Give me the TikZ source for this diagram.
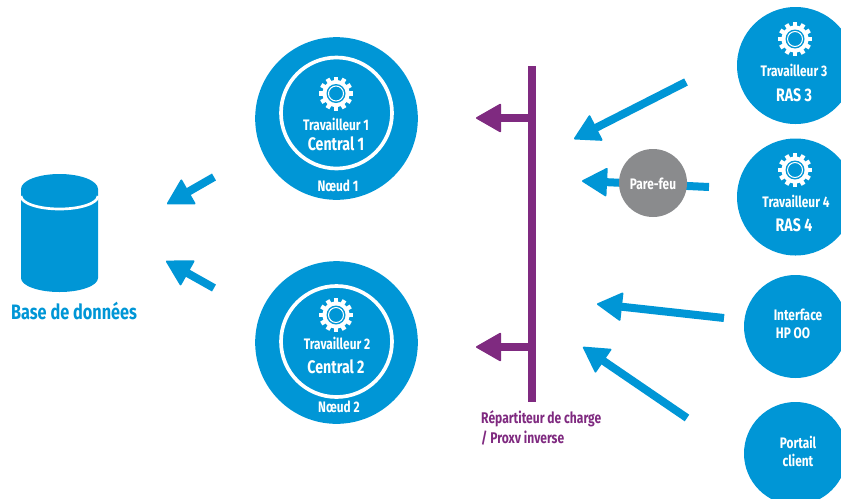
\documentclass[tikz,border=0pt]{standalone}
\usepackage{fontspec}
\setmainfont[FakeStretch=0.78]{Fira Sans}
\usetikzlibrary{arrows.meta}
\definecolor{hpblue}{HTML}{0096D6}
\definecolor{lbpurple}{HTML}{7F2A80}
\definecolor{fwgrey}{HTML}{8A8B8D}
\tikzset{
	bignode/.style={circle,fill=hpblue,minimum size=4.88cm},
	ringnode/.style={circle,draw=white,line width=.11cm,minimum size=3.33cm},
	rasnode/.style={circle,fill=hpblue,minimum size=3.51cm},
	usernode/.style={circle,fill=hpblue,minimum size=3.09cm},
	fwnode/.style={circle,fill=fwgrey,minimum size=2.04cm},
	wtext/.style={text=white,font=\bfseries\fontsize{13}{15}\selectfont},
	wbig/.style={text=white,font=\bfseries\fontsize{15.5}{18}\selectfont},
	btext/.style={text=hpblue,font=\bfseries\fontsize{17.8}{20}\selectfont},
	ptext/.style={text=lbpurple,font=\bfseries\fontsize{13.2}{15}\selectfont,anchor=west},
	bluearrow/.style={hpblue,line width=.24cm,-{Triangle[length=.78cm,width=.88cm,line width=1.5pt,round]}},
	purplearrow/.style={lbpurple,line width=.22cm,-{Triangle[length=.78cm,width=.88cm,line width=1.5pt,round]}},
	gear/.pic={
		\fill [white] (0,0) circle (13.5);
		\foreach \a in {0,30,...,330}
			\draw [white,line width=.13cm] (\a:11) -- (\a:17);
		\fill [hpblue] (0,0) circle (9.5);
		\draw [white,line width=.03cm] (0,0) circle (7.5);
	}
}
\begin{document}
\begin{tikzpicture}[x=0.03cm,y=0.03cm]
	\tikzstyle{every node}+=[inner sep=0pt]
	\useasboundingbox (0,0) rectangle (841,-498);
	\clip (0,0) rectangle (841,-498);

	\node [bignode] (node1) at (336.5,-118.5) {};
	\node [ringnode] (ring1) at (336.5,-113) {};
	\pic at (336,-93.5) {gear};
	\node [wtext] (worker1) at (336,-124) {Travailleur 1};
	\node [wbig] (central1) at (336,-144) {Central 1};
	\node [wtext] (noeud1) at (338,-186) {Nœud 1};

	\node [bignode] (node2) at (336.5,-342.5) {};
	\node [ringnode] (ring2) at (336.5,-341.5) {};
	\pic at (336,-315) {gear};
	\node [wtext] (worker2) at (337,-343) {Travailleur 2};
	\node [wbig] (central2) at (336,-367) {Central 2};
	\node [wtext] (noeud2) at (339,-407) {Nœud 2};

	\node [rasnode] (ras3) at (795.5,-65.5) {};
	\pic at (795,-39) {gear};
	\node [wtext] (worker3) at (794,-70) {Travailleur 3};
	\node [wbig] (rastext3) at (794,-95) {RAS 3};

	\node [rasnode] (ras4) at (795.5,-197) {};
	\pic at (795,-170) {gear};
	\node [wtext] (worker4) at (796,-201) {Travailleur 4};
	\node [wbig] (rastext4) at (794,-225) {RAS 4};

	\node [usernode] (ui) at (795.5,-326.5) {};
	\node [wtext] (uitext1) at (798,-315) {Interface};
	\node [wtext] (uitext2) at (793,-333) {HP OO};

	\node [usernode] (portal) at (795.5,-453.5) {};
	\node [wtext] (portaltext1) at (798,-442) {Portail};
	\node [wtext] (portaltext2) at (798,-460) {client};

	\fill [hpblue] (21,-189) -- (21,-278) arc (180:360:38.5 and 14) -- (98,-189) arc (0:180:38.5 and 15);
	\draw [white,line width=.08cm] (21,-196) arc (180:360:38.5 and 13);
	\node [btext] (dbtext) at (74,-311) {Base de données};

	\coordinate (db1s) at (214,-177);
	\coordinate (db1e) at (167,-204);
	\coordinate (db2s) at (214,-288);
	\coordinate (db2e) at (166,-261);
	\draw [bluearrow] (db1s) -- (db1e);
	\draw [bluearrow] (db2s) -- (db2e);

	\coordinate (bartop) at (532,-66);
	\coordinate (barbot) at (532,-402);
	\coordinate (lb1) at (532,-118);
	\coordinate (lb2) at (532,-347);
	\coordinate (out1) at (476,-118);
	\coordinate (out2) at (476,-347);
	\draw [lbpurple,line width=.22cm] (bartop) -- (barbot);
	\draw [purplearrow] (lb1) -- (out1);
	\draw [purplearrow] (lb2) -- (out2);
	\node [ptext] (lbtext1) at (481,-419) {Répartiteur de charge};
	\node [ptext] (lbtext2) at (481,-438) {/ Proxv inverse};

	\coordinate (in3s) at (686,-82);
	\coordinate (in3e) at (574,-139);
	\coordinate (in4s) at (709,-187);
	\coordinate (in4e) at (582,-181);
	\coordinate (inus) at (724,-318);
	\coordinate (inue) at (597,-304);
	\coordinate (inps) at (687,-418);
	\coordinate (inpe) at (583,-347);
	\draw [bluearrow] (in3s) -- (in3e);
	\draw [bluearrow] (in4s) -- (in4e);
	\draw [bluearrow] (inus) -- (inue);
	\draw [bluearrow] (inps) -- (inpe);

	\node [fwnode] (firewall) at (653,-183) {};
	\node [wtext] (fwtext) at (653,-184) {Pare-feu};
\end{tikzpicture}
\end{document}
